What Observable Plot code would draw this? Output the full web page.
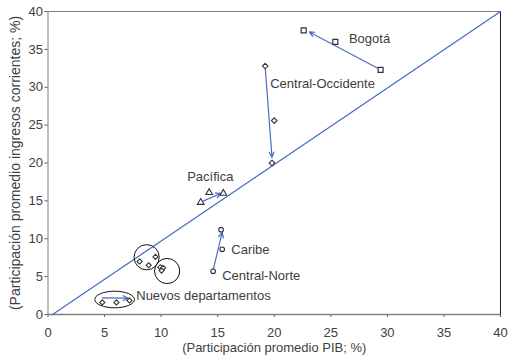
<!DOCTYPE html>
<html>
<head>
<meta charset="utf-8">
<script src="https://cdn.jsdelivr.net/npm/d3@7"></script>
<script src="https://cdn.jsdelivr.net/npm/@observablehq/plot@0.6"></script>
<style>
  html, body { margin: 0; padding: 0; background: #fff; }
  #chart svg { display: block; }
</style>
</head>
<body>
<div id="chart"></div>
<script>
// ---- Data ----
const xTicks = [0, 5, 10, 15, 20, 25, 30, 35, 40];
const yTicks = [0, 5, 10, 15, 20, 25, 30, 35, 40];

// Bogotá (squares)
const bogotaPIB = [22.6, 25.4, 29.4];
const bogotaIng = [37.5, 36.0, 32.3];
// Central-Occidente (diamonds)
const occPIB = [19.2, 20.0, 19.8];
const occIng = [32.8, 25.6, 20.0];
// Pacífica (triangles)
const pacPIB = [13.5, 14.25, 15.5];
const pacIng = [14.8, 16.1, 16.0];
// Caribe / Central-Norte (circles)
const carPIB = [15.3, 15.4, 14.6];
const carIng = [11.2, 8.6, 5.7];
// Nuevos departamentos and other departments (diamonds)
const nuevosPIB = [4.8, 6.05, 7.2];
const nuevosIng = [1.6, 1.6, 1.85];
const otrosPIB = [8.1, 8.9, 9.5, 9.93, 10.17, 10.04];
const otrosIng = [7.0, 6.5, 7.6, 6.24, 6.15, 5.8];

// Reference diagonal
const diagPIB = [0.4, 40];
const diagIng = [0, 40];

// Arrows (from -> to)
const arrowX1 = [29.4, 19.2, 13.6, 14.6, 4.8];
const arrowY1 = [32.3, 32.6, 14.9, 5.9, 2.2];
const arrowX2 = [23.1, 19.8, 15.3, 15.4, 7.1];
const arrowY2 = [37.3, 20.75, 16.0, 10.85, 2.15];

// Highlight circles / ellipse centres
const circleX = [8.72, 10.53];
const circleY = [7.56, 5.74];
const ellipseX = [5.89];
const ellipseY = [1.98];

// Labels
const labelText = ["Bogotá", "Central-Occidente", "Pacífica", "Caribe", "Central-Norte", "Nuevos departamentos"];
const labelX = [26.6, 19.64, 12.3, 16.2, 15.4, 7.8];
const labelY = [36.4, 30.5, 18.2, 8.6, 5.1, 2.5];

const xLabel = "(Participación promedio PIB; %)";
const yLabel = "(Participación promedio ingresos corrientes; %)";

// ---- helpers ----
const zip = (xs, ys) => xs.map((x, i) => ({x, y: ys[i]}));
const arrows = arrowX1.map((x1, i) => ({x1, y1: arrowY1[i], x2: arrowX2[i], y2: arrowY2[i]}));
const labels = labelText.map((t, i) => ({t, x: labelX[i], y: labelY[i]}));

function ellipseSymbol(aspect) {
  return {
    draw(context, size) {
      const ry = Math.sqrt(size / Math.PI);
      const rx = ry * aspect;
      const k = 0.5523;
      context.moveTo(rx, 0);
      context.bezierCurveTo(rx, ry * k, rx * k, ry, 0, ry);
      context.bezierCurveTo(-rx * k, ry, -rx, ry * k, -rx, 0);
      context.bezierCurveTo(-rx, -ry * k, -rx * k, -ry, 0, -ry);
      context.bezierCurveTo(rx * k, -ry, rx, -ry * k, rx, 0);
      context.closePath();
    }
  };
}

const blue = "#4a6cc4";
const ink = "#404040";
const markerStroke = "#333";

const chart = Plot.plot({
  width: 508,
  height: 358,
  marginLeft: 47.5,
  marginRight: 8,
  marginTop: 11,
  marginBottom: 44,
  style: {fontFamily: "'Liberation Sans', Arial, sans-serif", fontSize: "13px", color: ink, background: "#fff"},
  x: {domain: [0, 40]},
  y: {domain: [0, 40]},
  marks: [
    Plot.frame({stroke: "#808080"}),
    Plot.ruleX([40], {stroke: "#222"}),
    Plot.axisX({ticks: xTicks, tickSize: 3, tickPadding: 10, label: null, stroke: "#555", fill: ink, fontSize: 13}),
    Plot.axisY({ticks: yTicks, tickSize: 3, tickPadding: 2, label: null, stroke: "#555", fill: ink, fontSize: 13}),
    Plot.ruleY([0], {stroke: "#808080", strokeWidth: 1.5}),
    Plot.text([xLabel], {frameAnchor: "bottom", dy: 37, textAnchor: "middle", fill: ink, fontSize: 13}),
    Plot.text([yLabel], {frameAnchor: "left", dx: -32.5, rotate: -90, textAnchor: "middle", fill: ink, fontSize: 14}),
    Plot.line(zip(diagPIB, diagIng), {x: "x", y: "y", stroke: blue, strokeWidth: 1.3}),
    Plot.dot(zip(circleX, circleY), {x: "x", y: "y", r: 12.6, stroke: "#111", strokeWidth: 1}),
    Plot.dot(zip(ellipseX, ellipseY), {x: "x", y: "y", r: 8.3, symbol: ellipseSymbol(2.39), stroke: "#111", strokeWidth: 1}),
    Plot.arrow(arrows, {x1: "x1", y1: "y1", x2: "x2", y2: "y2", stroke: blue, strokeWidth: 1.2, headLength: 7, headAngle: 50}),
    Plot.dot(zip(bogotaPIB, bogotaIng), {x: "x", y: "y", symbol: "square", r: 2.8, fill: "#fff", stroke: markerStroke, strokeWidth: 1.2}),
    Plot.dot(zip(occPIB, occIng), {x: "x", y: "y", symbol: "diamond2", r: 2.5, fill: "#fff", stroke: markerStroke, strokeWidth: 1.1}),
    Plot.dot(zip(pacPIB, pacIng), {x: "x", y: "y", symbol: "triangle", r: 2.5, fill: "#fff", stroke: markerStroke, strokeWidth: 1.1}),
    Plot.dot(zip(carPIB, carIng), {x: "x", y: "y", symbol: "circle", r: 2.3, fill: "#fff", stroke: markerStroke, strokeWidth: 1.1}),
    Plot.dot(zip(nuevosPIB, nuevosIng), {x: "x", y: "y", symbol: "diamond2", r: 2.3, fill: "#fff", stroke: markerStroke, strokeWidth: 1.1}),
    Plot.dot(zip(otrosPIB, otrosIng), {x: "x", y: "y", symbol: "diamond2", r: 2.3, fill: "#fff", stroke: markerStroke, strokeWidth: 1.1}),
    Plot.text(labels, {x: "x", y: "y", text: "t", textAnchor: "start", fill: ink, fontSize: 13})
  ]
});
document.getElementById("chart").appendChild(chart);
</script>
</body>
</html>
